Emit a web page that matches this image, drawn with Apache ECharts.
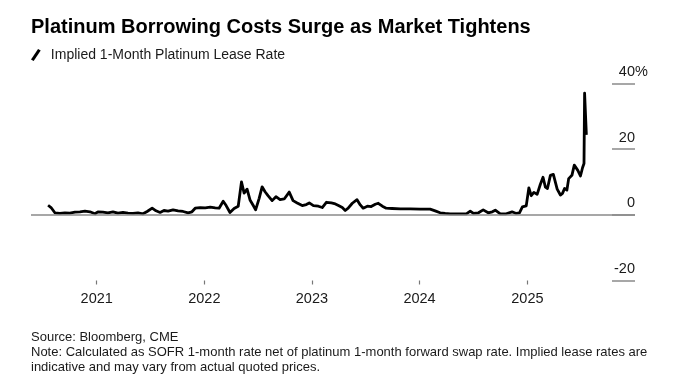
<!DOCTYPE html>
<html>
<head>
<meta charset="utf-8">
<script src="https://cdn.jsdelivr.net/npm/echarts@6/dist/echarts.min.js"></script>
<style>
  html, body { margin: 0; padding: 0; background: #fff; }
  #chart { width: 680px; height: 384px; }
</style>
</head>
<body>
<div id="chart"></div>
<script>
// ---- Data ----
const dates = [
  '2020-07-20','2020-07-30','2020-08-12','2020-08-29','2020-09-15','2020-10-02','2020-10-19','2020-11-05',
  '2020-11-22','2020-12-09','2020-12-26','2021-01-05','2021-01-22','2021-02-08','2021-02-25','2021-03-14',
  '2021-03-31','2021-04-17','2021-05-04','2021-05-21','2021-06-07','2021-06-21','2021-07-08','2021-07-21',
  '2021-08-04','2021-08-17','2021-08-31','2021-09-17','2021-10-04','2021-10-21','2021-11-07','2021-11-20',
  '2021-12-01','2021-12-18','2022-01-04','2022-01-21','2022-02-07','2022-02-20','2022-03-06','2022-03-16',
  '2022-03-29','2022-04-12','2022-04-26','2022-05-07','2022-05-16','2022-05-26','2022-06-05','2022-06-16',
  '2022-06-24','2022-07-06','2022-07-16','2022-07-26','2022-08-05','2022-08-19','2022-09-01','2022-09-15',
  '2022-09-29','2022-10-16','2022-10-29','2022-11-12','2022-11-29','2022-12-13','2022-12-23','2023-01-06',
  '2023-01-23','2023-02-05','2023-02-19','2023-03-08','2023-03-18','2023-04-01','2023-04-14','2023-04-24',
  '2023-05-04','2023-05-18','2023-06-03','2023-06-14','2023-06-24','2023-07-08','2023-07-21','2023-08-04',
  '2023-08-14','2023-08-28','2023-09-10','2023-09-30','2023-10-28','2023-12-01','2024-01-03','2024-02-06',
  '2024-02-23','2024-03-11','2024-03-28','2024-04-14','2024-05-11','2024-06-08','2024-06-21','2024-07-02',
  '2024-07-19','2024-08-04','2024-08-21','2024-09-04','2024-09-14','2024-10-01','2024-10-21','2024-11-10',
  '2024-11-24','2024-12-05','2024-12-15','2024-12-28','2025-01-06','2025-01-14','2025-01-23','2025-02-03',
  '2025-02-14','2025-02-23','2025-03-03','2025-03-10','2025-03-20','2025-03-30','2025-04-12','2025-04-23',
  '2025-04-30','2025-05-07','2025-05-15','2025-05-21','2025-06-01','2025-06-09','2025-06-21','2025-06-30',
  '2025-07-07','2025-07-12','2025-07-14','2025-07-17','2025-07-20'
];
const leaseRate = [
  2.9, 2.2, 0.6, 0.4, 0.6, 0.5, 0.8, 0.9,
  1.1, 0.9, 0.3, 0.9, 0.8, 0.6, 0.9, 0.5,
  0.7, 0.5, 0.4, 0.6, 0.3, 1.0, 2.0, 1.2,
  0.7, 1.3, 1.1, 1.5, 1.2, 1.0, 0.6, 0.9,
  2.0, 2.2, 2.1, 2.3, 2.1, 2.0, 4.1, 2.8,
  0.7, 1.9, 2.6, 10.0, 6.6, 7.8, 4.5, 2.8,
  1.5, 5.0, 8.5, 7.0, 5.8, 4.3, 5.5, 4.6,
  4.8, 6.9, 4.3, 3.6, 2.8, 3.1, 3.6, 2.8,
  2.6, 2.2, 3.8, 3.6, 3.4, 2.8, 2.2, 1.3,
  2.0, 3.5, 4.6, 3.0, 2.0, 2.6, 2.5, 3.2,
  3.5, 2.6, 2.0, 1.9, 1.8, 1.8, 1.7, 1.7,
  1.2, 0.6, 0.4, 0.3, 0.3, 0.3, 1.1, 0.4,
  0.6, 1.5, 0.6, 0.9, 1.4, 0.3, 0.3, 0.9,
  0.4, 0.6, 2.4, 2.7, 8.2, 5.8, 6.8, 6.2,
  9.3, 11.4, 8.4, 8.0, 12.0, 12.3, 7.8, 6.0,
  6.5, 8.0, 7.5, 11.0, 12.0, 15.1, 13.5, 11.8,
  14.3, 15.6, 37.0, 36.5, 24.3
];
const yearTicks = [2021, 2022, 2023, 2024, 2025];
const yMin = -20, yMax = 40, yStep = 20;
const xStart = '2020-05-23', xEnd = '2026-01-01';

const titleText = 'Platinum Borrowing Costs Surge as Market Tightens';
const seriesName = 'Implied 1-Month Platinum Lease Rate';
const notesText = 'Source: Bloomberg, CME\nNote: Calculated as SOFR 1-month rate net of platinum 1-month forward swap rate. Implied lease rates are\nindicative and may vary from actual quoted prices.';

// ---- Chart ----
const FONT = "'Liberation Sans', Arial, Helvetica, sans-serif";
const toTime = s => { const p = s.split('-').map(Number); return new Date(p[0], p[1] - 1, p[2]).getTime(); };
const seriesData = dates.map((d, i) => [toTime(d), leaseRate[i]]);
const yearValues = yearTicks.map(y => new Date(y, 0, 1).getTime());

const chart = echarts.init(document.getElementById('chart'), null, { renderer: 'canvas' });
const option = {
  animation: false,
  backgroundColor: '#ffffff',
  textStyle: { fontFamily: FONT },
  title: [
    {
      text: titleText, left: 31, top: 17, padding: 0,
      textStyle: { fontFamily: FONT, fontSize: 20, fontWeight: 'bold', color: '#000' }
    },
    {
      text: notesText, left: 31, top: 330, padding: 0,
      textStyle: { fontFamily: FONT, fontSize: 13, fontWeight: 'normal', color: '#1a1a1a', lineHeight: 15 }
    }
  ],
  legend: {
    left: 31, top: 48, padding: 0,
    itemWidth: 10, itemHeight: 12,
    icon: 'path://M0,12 L8,0 L11,1.6 L3,13.6 Z',
    data: [{ name: seriesName, itemStyle: { color: '#000' } }],
    textStyle: { fontFamily: FONT, fontSize: 14, color: '#1a1a1a', padding: [0, 0, 0, 5] },
    selectedMode: false
  },
  grid: { left: 31, right: 45, top: 83.3, bottom: 103.5, containLabel: false },
  xAxis: {
    type: 'value',
    min: toTime(xStart), max: toTime(xEnd),
    axisLine: { show: false, onZero: false },
    splitLine: { show: false },
    axisTick: {
      show: true, length: 4, customValues: yearValues,
      lineStyle: { color: '#777', width: 1.2 }
    },
    axisLabel: {
      customValues: yearValues, margin: 11,
      fontFamily: FONT, fontSize: 14.5, color: '#1a1a1a',
      formatter: v => String(new Date(v).getFullYear())
    }
  },
  yAxis: {
    type: 'value', position: 'right',
    min: yMin, max: yMax, interval: yStep,
    axisLine: { show: false },
    splitLine: { show: false },
    axisTick: { show: true, inside: true, length: 23, lineStyle: { color: '#8a8a8a', width: 1.5 } },
    axisLabel: {
      inside: true, margin: 0, verticalAlign: 'bottom', padding: [0, 0, 4, 0],
      fontFamily: FONT, fontSize: 14.5, color: '#1a1a1a'
    }
  },
  series: [{
    name: seriesName,
    type: 'line',
    data: seriesData,
    showSymbol: false,
    symbol: 'none',
    lineStyle: { color: '#000', width: 2.8, join: 'round' },
    itemStyle: { color: '#000' },
    markLine: {
      silent: true, symbol: 'none', label: { show: false },
      lineStyle: { color: '#8a8a8a', width: 1.5, type: 'solid' },
      data: [{ yAxis: 0 }]
    },
    z: 3
  }]
};
chart.setOption(option);

// hanging "%" after the top tick label
const topY = chart.convertToPixel({ yAxisIndex: 0 }, yMax);
const rightX = chart.convertToPixel({ xAxisIndex: 0 }, toTime(xEnd));
chart.setOption({
  graphic: [{
    type: 'text', x: rightX, y: topY - 4, silent: true,
    style: { text: '%', fill: '#1a1a1a', font: "14.5px " + FONT, textAlign: 'left', textVerticalAlign: 'bottom' }
  }]
});
</script>
</body>
</html>
